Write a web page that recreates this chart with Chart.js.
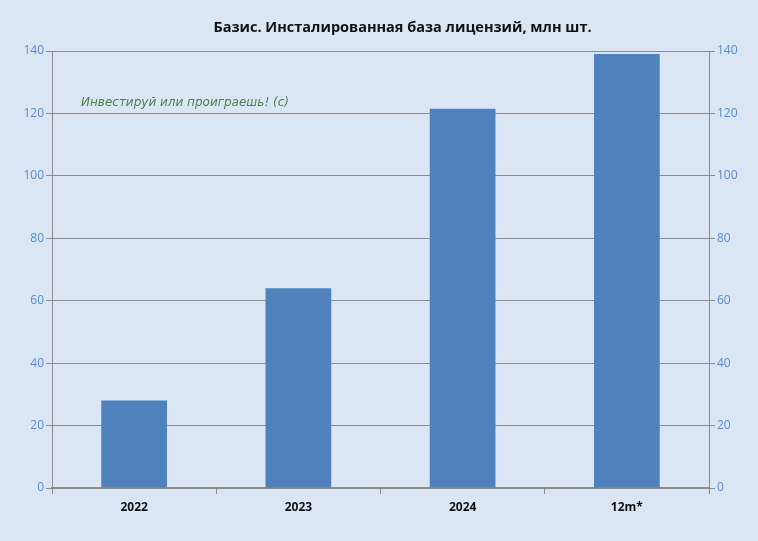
<!DOCTYPE html>
<html>
<head>
<meta charset="utf-8">
<script src="https://cdn.jsdelivr.net/npm/chart.js@4.4.1/dist/chart.umd.min.js"></script>
<style>
  html, body { margin: 0; padding: 0; background: #dbe6f4; }
  #wrap { position: relative; width: 758px; height: 541px; }
  #title {
    position: absolute; left: 0; top: 17px; width: 805px; text-align: center;
    font: bold 14.5px "Open Sans", sans-serif; color: #111;
  }
  #note {
    position: absolute; left: 81px; top: 95px;
    font: italic 12px "DejaVu Sans", sans-serif; color: #4f8050;
  }
</style>
</head>
<body>
<div id="wrap">
  <canvas id="chart"></canvas>
  <div id="title">Базис. Инсталированная база лицензий, млн шт.</div>
  <div id="note">Инвестируй или проиграешь! (с)</div>
</div>
<script>
const categories = ["2022", "2023", "2024", "12m*"];
const licenses = [28, 64, 121.5, 139];
const yTicks = [0, 20, 40, 60, 80, 100, 120, 140];

const gridGray = "#8c8c8c";
const tickBlue = "#5a8ad0";

const ctx = document.getElementById("chart").getContext("2d");
new Chart(ctx, {
  type: "bar",
  data: {
    labels: categories,
    datasets: [
      {
        label: "Инсталированная база",
        data: licenses,
        backgroundColor: "#4f81bd",
        borderWidth: 0,
        barPercentage: 0.4,
        categoryPercentage: 1
      }
    ]
  },
  options: {
    responsive: true,
    maintainAspectRatio: false,
    animation: false,
    layout: { padding: { top: 51, left: 0, right: 0, bottom: 0 } },
    plugins: {
      legend: { display: false },
      tooltip: { enabled: false }
    },
    scales: {
      x: {
        grid: {
          offset: true,
          drawOnChartArea: false,
          color: gridGray,
          tickLength: 6
        },
        border: { color: gridGray, width: 1.5 },
        ticks: {
          color: "#111",
          font: { family: "Open Sans", size: 12, weight: "bold" },
          padding: 6
        },
        afterFit: (scale) => { scale.height = 53; }
      },
      y: {
        position: "left",
        min: 0,
        max: 140,
        afterBuildTicks: (scale) => { scale.ticks = yTicks.map((v) => ({ value: v })); },
        grid: { color: gridGray, tickLength: 6 },
        border: { color: gridGray },
        ticks: {
          color: tickBlue,
          font: { family: "Open Sans", size: 12 },
          padding: 2
        },
        afterFit: (scale) => { scale.width = 52; }
      },
      y2: {
        position: "right",
        min: 0,
        max: 140,
        afterBuildTicks: (scale) => { scale.ticks = yTicks.map((v) => ({ value: v })); },
        grid: { drawOnChartArea: false, color: gridGray, tickLength: 6 },
        border: { color: gridGray },
        ticks: {
          color: tickBlue,
          font: { family: "Open Sans", size: 12 },
          padding: 2
        },
        afterFit: (scale) => { scale.width = 49; }
      }
    }
  }
});
</script>
</body>
</html>
